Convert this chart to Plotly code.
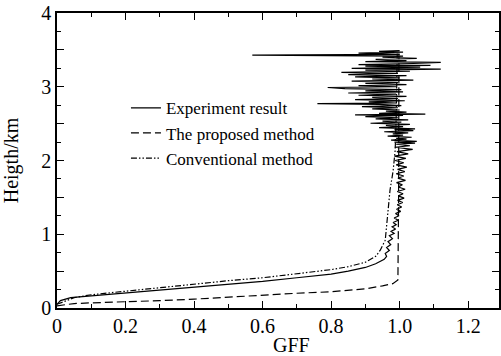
import plotly.graph_objects as go

# Experiment result: height (km) and GFF
exp_h = [0.05, 0.10, 0.14, 0.17, 0.20, 0.24, 0.28, 0.32, 0.36, 0.41, 0.46, 0.50, 0.55, 0.60,
         0.66, 0.70, 0.74, 0.78, 0.82, 0.86, 0.90, 0.94, 0.98, 1.01, 1.04, 1.07, 1.10, 1.13, 1.16,
         1.19, 1.22, 1.25, 1.28, 1.31, 1.34, 1.37, 1.40, 1.43, 1.46, 1.49, 1.52, 1.55, 1.58, 1.61,
         1.64, 1.67, 1.70, 1.73, 1.76, 1.79, 1.82, 1.85, 1.88, 1.91, 1.94, 1.97, 2.00, 2.03, 2.06,
         2.09, 2.12, 2.15, 2.18,
         2.20, 2.22, 2.235, 2.25, 2.26, 2.275, 2.29, 2.30, 2.315, 2.33, 2.345, 2.36, 2.375, 2.39,
         2.405, 2.42, 2.43, 2.445, 2.46, 2.475, 2.49, 2.505, 2.52, 2.535, 2.55, 2.565, 2.58, 2.595,
         2.61, 2.62, 2.63, 2.64, 2.655, 2.67, 2.685, 2.70, 2.715, 2.73, 2.745, 2.76, 2.77, 2.78,
         2.795, 2.81, 2.825, 2.84, 2.855, 2.87, 2.885, 2.90, 2.915, 2.93, 2.945, 2.96, 2.975, 2.99,
         3.00, 3.015, 3.03, 3.045, 3.06, 3.075, 3.09, 3.105, 3.12, 3.135, 3.15, 3.165, 3.18, 3.195,
         3.21, 3.225, 3.24, 3.25, 3.265, 3.28, 3.29, 3.30, 3.315, 3.33, 3.34, 3.355, 3.37, 3.385,
         3.40, 3.415, 3.43, 3.44, 3.455, 3.47, 3.48, 3.49]
exp_gff = [0.00, 0.01, 0.04, 0.12, 0.20, 0.30, 0.40, 0.50, 0.60, 0.70, 0.80, 0.85, 0.90, 0.93,
           0.955, 0.962, 0.958, 0.970, 0.962, 0.974, 0.966, 0.979, 0.970, 0.984, 0.975, 0.988, 0.978, 0.990, 0.981,
           0.996, 0.984, 0.998, 0.988, 1.003, 0.991, 1.006, 0.993, 1.009, 0.994, 1.013, 0.996, 1.010, 0.993, 1.016,
           0.996, 1.008, 0.991, 1.017, 0.995, 1.012, 0.990, 1.015, 0.994, 1.021, 0.990, 1.012, 0.987, 1.018, 0.985,
           1.025, 0.992, 1.038, 0.986,
           1.030, 0.990, 1.045, 0.985, 1.050, 0.975, 1.020, 0.990, 1.035, 0.965, 1.010, 0.980, 1.025, 0.955,
           1.040, 0.985, 1.045, 0.940, 1.010, 0.960, 1.030, 0.915, 1.005, 0.950, 1.025, 0.930, 0.995, 0.900,
           1.010, 0.870, 1.075, 0.940, 1.020, 0.960, 1.000, 0.920, 0.995, 0.890, 1.005, 0.940, 0.760, 0.990,
           0.910, 1.015, 0.870, 0.995, 0.920, 1.020, 0.880, 0.990, 0.850, 1.010, 0.900, 1.005, 0.840, 0.790,
           0.990, 0.880, 1.020, 0.900, 0.995, 0.860, 1.040, 0.920, 1.000, 0.870, 1.020, 0.850, 0.995, 0.830,
           1.030, 0.900, 1.120, 0.860, 1.060, 0.900, 1.090, 0.880, 1.040, 1.120, 0.900, 1.020, 0.930, 1.050,
           0.950, 1.010, 0.570, 1.000, 0.880, 1.010, 0.940, 1.000]

# The proposed method
prop_gff = [0.0, 0.05, 0.1, 0.2, 0.3, 0.4, 0.5, 0.6, 0.7, 0.8, 0.9, 0.95, 0.98, 0.995, 0.997, 0.998]
prop_h = [0.03, 0.06, 0.07, 0.08, 0.10, 0.12, 0.15, 0.18, 0.20, 0.22, 0.26, 0.30, 0.33, 0.38, 1.50, 3.45]

# Conventional method
conv_gff = [0.0, 0.05, 0.1, 0.2, 0.3, 0.4, 0.5, 0.6, 0.7, 0.8, 0.85, 0.9, 0.93, 0.943, 0.958, 0.972,
            0.981, 0.987, 0.99, 0.992, 0.993]
conv_h = [0.05, 0.14, 0.18, 0.23, 0.28, 0.33, 0.37, 0.41, 0.46, 0.52, 0.56, 0.62, 0.70, 0.78, 0.92, 1.60,
          1.86, 2.14, 2.60, 3.00, 3.45]

x_tickvals = [0, 0.2, 0.4, 0.6, 0.8, 1.0, 1.2]
x_ticktext = ["0", "0.2", "0.4", "0.6", "0.8", "1.0", "1.2"]
y_tickvals = [0, 0.5, 1, 1.5, 2, 2.5, 3, 3.5, 4]
y_ticktext = ["0", "", "1", "", "2", "", "3", "", "4"]

FONT = "Liberation Serif, Times New Roman, serif"

fig = go.Figure()
fig.add_trace(go.Scatter(x=exp_gff, y=exp_h, mode="lines", name="Experiment result",
                         line=dict(color="black", width=1.2)))
fig.add_trace(go.Scatter(x=prop_gff, y=prop_h, mode="lines", name="The proposed method",
                         line=dict(color="black", width=1.2, dash="8px,4px")))
fig.add_trace(go.Scatter(x=conv_gff, y=conv_h, mode="lines", name="Conventional method",
                         line=dict(color="black", width=1.2, dash="6px,2px,1.5px,2px,1.5px,2px")))

axis_common = dict(showline=True, linecolor="black", linewidth=1.5, mirror="ticks",
                   ticks="inside", tickcolor="black", tickwidth=1.2, ticklen=7,
                   showgrid=False, zeroline=False, automargin=False, ticklabeloverflow="allow",
                   tickfont=dict(family=FONT, size=20, color="black"))

fig.update_xaxes(range=[0, 1.29], tickmode="array", tickvals=x_tickvals, ticktext=x_ticktext,
                 ticklabelstandoff=-1,
                 minor=dict(ticks="inside", dtick=0.1, ticklen=4, tickcolor="black", showgrid=False),
                 **axis_common)
fig.update_yaxes(range=[0, 4], tickmode="array", tickvals=y_tickvals, ticktext=y_ticktext,
                 minor=dict(ticks="inside", dtick=0.25, tick0=0, ticklen=4, tickcolor="black", showgrid=False),
                 title=dict(text="Heigth/km", font=dict(family=FONT, size=20, color="black"), standoff=19),
                 **axis_common)

# x-axis title, placed slightly right of centre as in the original
fig.add_annotation(text="GFF", xref="paper", yref="paper", x=0.53, y=-0.125,
                   xanchor="center", yanchor="middle", showarrow=False,
                   font=dict(family=FONT, size=20, color="black"))

fig.update_layout(
    width=501, height=356,
    margin=dict(l=57, r=2, t=13, b=48),
    plot_bgcolor="white", paper_bgcolor="white",
    font=dict(family=FONT, size=20, color="black"),
    legend=dict(x=0.156, y=0.738, xanchor="left", yanchor="top",
                bgcolor="rgba(0,0,0,0)", font=dict(family=FONT, size=17, color="black"),
                tracegroupgap=0, itemwidth=30),
    showlegend=True,
)

fig.write_html("out.html", config={"displayModeBar": False},
               post_script="document.body.style.margin='0';")
